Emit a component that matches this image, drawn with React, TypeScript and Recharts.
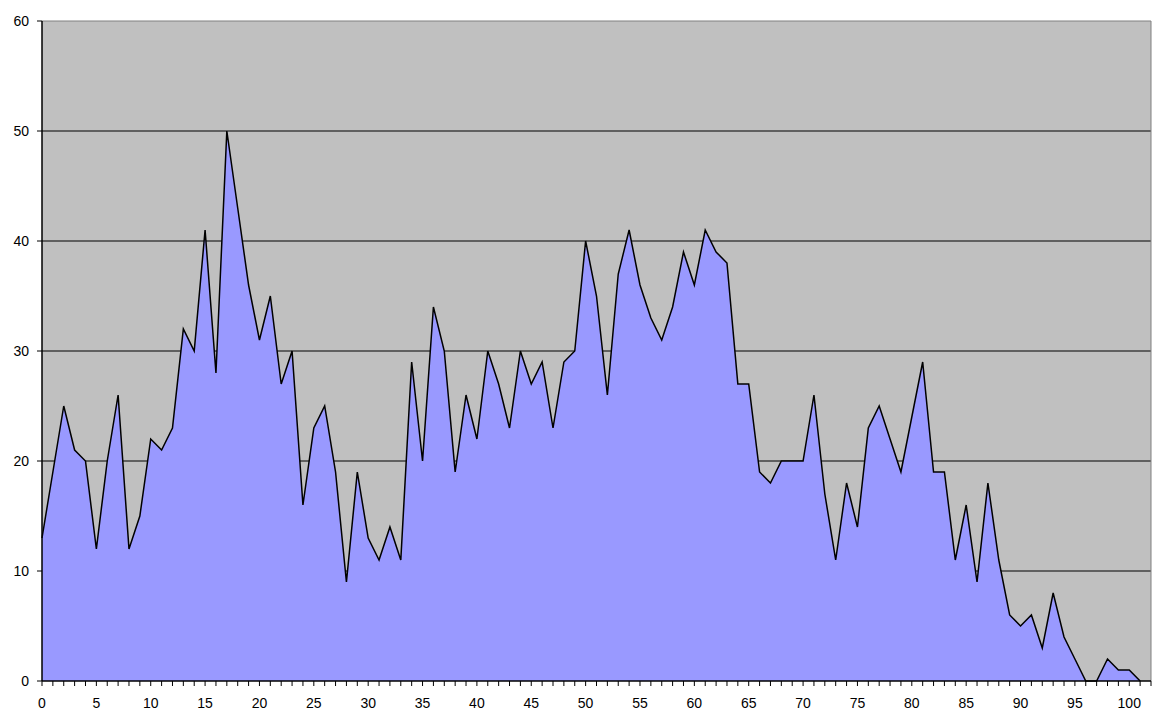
import React from 'react';
import { AreaChart, Area, XAxis, YAxis, CartesianGrid, ReferenceLine } from 'recharts';

// values, one per category (0..101); category 102 is empty
const counts = [
  13, 19, 25, 21, 20, 12, 20, 26, 12, 15,
  22, 21, 23, 32, 30, 41, 28, 50, 43, 36,
  31, 35, 27, 30, 16, 23, 25, 19, 9, 19,
  13, 11, 14, 11, 29, 20, 34, 30, 19, 26,
  22, 30, 27, 23, 30, 27, 29, 23, 29, 30,
  40, 35, 26, 37, 41, 36, 33, 31, 34, 39,
  36, 41, 39, 38, 27, 27, 19, 18, 20, 20,
  20, 26, 17, 11, 18, 14, 23, 25, 22, 19,
  24, 29, 19, 19, 11, 16, 9, 18, 11, 6,
  5, 6, 3, 8, 4, 2, 0, 0, 2, 1,
  1, 0,
];
const lastCategory = 102;
const xLabelStep = 5;
const yTicks = [0, 10, 20, 30, 40, 50, 60];
const gridValues = [10, 20, 30, 40, 50];

const categories = Array.from({ length: lastCategory + 1 }, (_, i) => i);
const data = categories.map((c) => ({ x: c, value: c < counts.length ? counts[c] : null }));

const font = "'Liberation Sans', Arial, sans-serif";

// every category gets a tick mark, only every 5th gets a label
const XTick = (props: any) => {
  const { x, y, payload } = props;
  if (payload.value % xLabelStep !== 0) return <g />;
  return (
    <text x={x} y={y} dy="0.71em" textAnchor="middle" fill="#000" fontSize={14} fontFamily={font}>
      {payload.value}
    </text>
  );
};

export default function App() {
  return (
    <div style={{ position: 'absolute', left: 0, top: 0, width: 1153, height: 711, background: '#fff' }}>
      <AreaChart width={1153} height={711} data={data} margin={{ top: 21, right: 2, left: 0, bottom: 0 }}>
        <CartesianGrid
          vertical={false}
          horizontalValues={gridValues}
          stroke="#000"
          strokeWidth={1}
          fill="#C0C0C0"
          fillOpacity={1}
        />
        <ReferenceLine y={60} stroke="#808080" strokeWidth={1} />
        <ReferenceLine x={lastCategory} stroke="#808080" strokeWidth={1} />
        <XAxis
          dataKey="x"
          type="number"
          domain={[0, lastCategory]}
          ticks={categories}
          interval={0}
          height={30}
          tick={<XTick />}
          tickSize={5}
          tickMargin={12}
          axisLine={{ stroke: '#000', strokeWidth: 1.5 }}
          tickLine={{ stroke: '#000' }}
        />
        <YAxis
          type="number"
          domain={[0, 60]}
          ticks={yTicks}
          interval={0}
          width={42}
          tickSize={5}
          tickMargin={8}
          axisLine={{ stroke: '#000', strokeWidth: 1.5 }}
          tickLine={{ stroke: '#000' }}
          tick={{ fill: '#000', fontSize: 14, fontFamily: font }}
        />
        <Area
          type="linear"
          dataKey="value"
          stroke="#000"
          strokeWidth={1.5}
          fill="#9999FF"
          fillOpacity={1}
          dot={false}
          activeDot={false}
          isAnimationActive={false}
        />
      </AreaChart>
    </div>
  );
}
